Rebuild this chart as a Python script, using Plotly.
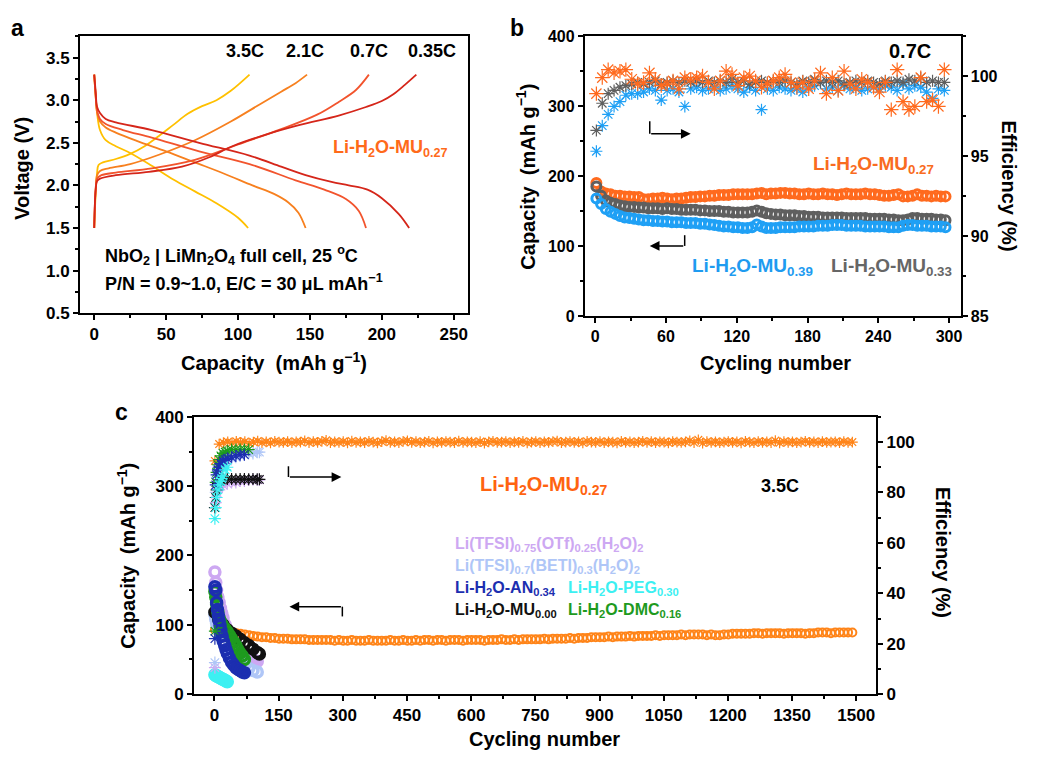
import plotly.graph_objects as go

W, H = 1043, 760
FONT = "Liberation Sans"

# ---------------- Panel a: charge/discharge profiles ----------------
a_rates = ["3.5C", "2.1C", "0.7C", "0.35C"]
a_colors = ["#FFC000", "#F7801F", "#F2542D", "#D5261A"]

cap_35_dis = [0, 1, 2, 4, 8, 15, 25, 40, 55, 70, 85, 100, 107]
v_35_dis = [3.30, 3.05, 2.85, 2.65, 2.53, 2.46, 2.38, 2.23, 2.07, 1.93, 1.79, 1.62, 1.50]
cap_35_ch = [0, 1, 2, 3, 6, 15, 25, 35, 45, 55, 65, 75, 85, 95, 108]
v_35_ch = [1.50, 1.90, 2.15, 2.24, 2.27, 2.31, 2.37, 2.46, 2.58, 2.71, 2.84, 2.93, 3.00, 3.11, 3.30]

cap_21_dis = [0, 1, 2, 4, 8, 15, 30, 50, 70, 90, 110, 125, 135, 142, 147]
v_21_dis = [3.30, 3.05, 2.85, 2.75, 2.68, 2.62, 2.52, 2.40, 2.27, 2.14, 2.00, 1.90, 1.80, 1.68, 1.50]
cap_21_ch = [0, 1, 2, 4, 10, 25, 45, 70, 95, 115, 130, 140, 148]
v_21_ch = [1.50, 1.95, 2.12, 2.17, 2.20, 2.25, 2.36, 2.53, 2.75, 2.95, 3.10, 3.20, 3.30]

cap_07_dis = [0, 1, 2, 4, 8, 20, 40, 73, 108, 140, 160, 175, 184, 189]
v_07_dis = [3.30, 3.05, 2.88, 2.78, 2.72, 2.65, 2.56, 2.40, 2.25, 2.06, 1.95, 1.84, 1.70, 1.50]
cap_07_ch = [0, 1, 2, 5, 15, 40, 70, 100, 130, 155, 170, 182, 191]
v_07_ch = [1.50, 1.95, 2.08, 2.12, 2.15, 2.20, 2.30, 2.48, 2.66, 2.83, 2.98, 3.12, 3.30]

cap_035_dis = [0, 1, 2, 4, 8, 15, 40, 73, 108, 130, 147, 165, 177, 190, 200, 212, 219]
v_035_dis = [3.30, 3.10, 2.92, 2.85, 2.78, 2.74, 2.65, 2.50, 2.35, 2.22, 2.12, 2.04, 2.00, 1.95, 1.85, 1.66, 1.50]
cap_035_ch = [0, 1, 2, 4, 15, 38, 61, 80, 96, 120, 143, 170, 189, 200, 208, 216, 224]
v_035_ch = [1.50, 1.95, 2.05, 2.08, 2.12, 2.16, 2.22, 2.33, 2.46, 2.60, 2.71, 2.82, 2.92, 2.99, 3.07, 3.18, 3.30]

a_curves = [
    (cap_35_dis, v_35_dis, cap_35_ch, v_35_ch),
    (cap_21_dis, v_21_dis, cap_21_ch, v_21_ch),
    (cap_07_dis, v_07_dis, cap_07_ch, v_07_ch),
    (cap_035_dis, v_035_dis, cap_035_ch, v_035_ch),
]

# ---------------- Panel b: cycling at 0.7C ----------------
b_cap_cycles = list(range(1, 300, 4))  # 75 cycles
b_cap_mu27 = [190, 178, 175, 174, 172, 172, 171, 171, 170, 170,
              167, 167, 168, 168, 169, 168, 167, 168, 168, 169,
              170, 170, 171, 171, 172, 172, 173, 173, 173, 174,
              174, 174, 174, 174, 175, 176, 174, 175, 175, 176,
              176, 175, 175, 174, 174, 175, 174, 174, 175, 174,
              174, 173, 174, 175, 174, 174, 174, 175, 174, 174,
              173, 172, 172, 173, 174, 171, 171, 172, 174, 172,
              172, 171, 172, 171, 171]
b_cap_mu33 = [185, 172, 165, 162, 160, 158, 157, 156, 156, 155,
              155, 154, 154, 154, 153, 154, 153, 153, 152, 152,
              152, 152, 151, 151, 150, 150, 150, 149, 149, 148,
              148, 148, 148, 149, 151, 149, 147, 146, 145, 145,
              144, 144, 144, 143, 143, 142, 142, 142, 141, 141,
              141, 141, 141, 140, 140, 140, 140, 140, 139, 139,
              139, 139, 138, 138, 137, 137, 138, 140, 140, 139,
              139, 139, 138, 138, 137]
b_cap_mu39 = [168, 160, 153, 149, 146, 143, 141, 140, 139, 138,
              137, 137, 136, 136, 135, 135, 134, 134, 134, 133,
              133, 133, 132, 132, 131, 130, 129, 128, 128, 127,
              127, 126, 126, 127, 131, 128, 126, 126, 126, 127,
              127, 127, 127, 128, 128, 128, 128, 129, 129, 129,
              130, 130, 130, 129, 129, 129, 129, 128, 128, 128,
              128, 128, 127, 127, 127, 129, 130, 130, 129, 129,
              129, 128, 128, 128, 127]

b_eff_cycles = list(range(1, 301, 5))  # 60 cycles
b_eff_mu27 = [98.9, 99.9, 100.4, 100.2, 100.3, 100.4, 99.8, 99.5, 99.6, 100.2,
              99.8, 99.4, 99.5, 99.7, 99.2, 99.9, 99.8, 99.9, 100.0, 99.6,
              99.2, 99.7, 100.3, 100.1, 99.4, 99.9, 100.0, 99.7, 99.3, 99.5,
              99.7, 99.9, 100.1, 99.6, 99.3, 99.6, 99.2, 99.7, 100.2, 98.9,
              99.9, 99.1, 100.3, 99.5, 99.2, 99.8, 99.6, 99.3, 99.0, 99.6,
              97.9, 100.4, 98.4, 97.9, 98.1, 99.9, 98.4, 98.5, 98.1, 100.4]
b_eff_mu33 = [96.6, 98.3, 98.9, 99.1, 99.3, 99.4, 99.5, 99.6, 99.5, 99.6,
              99.7, 99.5, 99.6, 99.7, 99.6, 99.7, 99.6, 99.7, 99.6, 99.7,
              99.6, 99.7, 99.6, 99.8, 99.6, 99.7, 99.5, 99.6, 99.7, 99.6,
              99.7, 99.6, 99.7, 99.6, 99.5, 99.7, 99.6, 99.8, 99.6, 99.7,
              99.6, 99.7, 99.5, 99.6, 99.7, 99.6, 99.7, 99.6, 99.5, 99.7,
              99.6, 99.7, 99.6, 99.8, 99.7, 99.9, 99.6, 99.7, 99.6, 99.6]
b_eff_mu39 = [95.3, 96.9, 97.6, 98.1, 98.4, 98.8, 98.9, 98.9, 99.0, 99.2,
              99.1, 98.5, 99.1, 99.2, 99.0, 98.1, 99.2, 99.3, 99.1, 99.2,
              99.3, 99.1, 99.2, 99.4, 99.2, 99.0, 99.3, 99.1, 97.9, 99.2,
              99.1, 99.3, 99.2, 99.1, 99.2, 99.0, 99.3, 99.4, 99.6, 99.2,
              99.3, 99.1, 99.4, 99.2, 99.3, 99.1, 99.2, 99.3, 99.2, 99.4,
              99.3, 99.1, 99.5, 99.2, 99.4, 99.3, 99.0, 98.6, 99.2, 99.1]

# ---------------- Panel c: cycling at 3.5C ----------------
c_mu27_cycles = list(range(1, 1500, 10))  # 150 cycles
c_mu27_cap = [93, 92, 91, 90, 89, 88, 87, 86, 85, 84,
              83, 82, 82, 81, 81, 80, 80, 80, 79, 79,
              79, 79, 78, 78, 78, 78, 78, 78, 77, 78,
              77, 77, 78, 77, 77, 77, 78, 77, 77, 77,
              77, 78, 77, 77, 78, 77, 77, 78, 77, 78,
              78, 77, 78, 78, 77, 78, 78, 78, 77, 78,
              78, 78, 78, 77, 78, 78, 78, 79, 78, 78,
              79, 78, 79, 79, 79, 79, 79, 80, 79, 80,
              80, 80, 80, 81, 80, 81, 81, 81, 82, 82,
              82, 82, 83, 82, 83, 83, 83, 84, 83, 84,
              84, 84, 84, 85, 84, 85, 85, 85, 85, 86,
              85, 86, 86, 86, 86, 85, 86, 85, 85, 86,
              86, 87, 87, 87, 87, 87, 88, 88, 87, 88,
              88, 88, 88, 87, 88, 88, 88, 88, 87, 88,
              88, 89, 89, 89, 88, 89, 89, 89, 89, 89]
c_mu27_eff = [92.5, 99.2, 99.8, 100.1, 99.7, 100.3, 99.9, 100.2, 99.6, 100.0,
              100.4, 99.8, 100.1, 99.7, 100.3, 100.0, 99.9, 100.2, 99.8, 100.1,
              100.0, 100.5, 99.8, 100.2, 99.9, 100.3, 100.7, 99.8, 100.1, 99.9,
              100.2, 99.7, 100.4, 99.9, 100.1, 99.8, 100.3, 100.0, 99.7, 100.2,
              100.6, 99.9, 100.1, 99.8, 100.3, 100.5, 99.9, 100.2, 99.8, 100.0,
              100.3, 99.7, 100.1, 99.9, 100.2, 100.0, 99.8, 100.4, 99.9, 100.1,
              100.0, 99.8, 100.2, 99.6, 100.1, 100.3, 99.9, 100.0, 100.2, 99.8,
              100.1, 99.9, 100.3, 99.7, 100.0, 100.2, 99.8, 100.1, 99.9, 100.2,
              100.4, 99.8, 100.0, 100.2, 99.9, 100.1, 99.7, 100.3, 100.0, 99.9,
              100.2, 99.8, 100.1, 100.0, 99.7, 100.3, 99.9, 100.1, 99.8, 100.0,
              100.3, 99.9, 100.2, 99.8, 100.1, 100.0, 99.7, 100.2, 100.0, 99.9,
              100.1, 100.5, 99.8, 100.9, 99.6, 100.2, 99.9, 100.1, 99.8, 100.0,
              100.2, 99.9, 100.1, 99.7, 100.3, 100.0, 99.8, 100.2, 99.9, 100.1,
              99.8, 100.6, 99.7, 100.2, 99.9, 100.1, 99.8, 100.0, 100.3, 99.9,
              100.1, 99.8, 100.2, 99.9, 100.0, 100.1, 99.8, 100.2, 99.9, 100.0]

otf_cap_cyc = [1, 3, 5, 8, 11, 14, 17, 20, 25, 30, 35, 40, 45, 50, 55, 60, 65, 70, 75, 80, 85, 90, 95, 100]
otf_cap = [176, 161, 150, 140, 132, 124, 117, 110, 100, 92, 86, 81, 76, 72, 68, 64, 61, 58, 55, 53, 51, 49, 48, 47]
otf_eff_cyc = [1, 3, 6, 10, 15, 20, 30, 40, 50, 60, 70, 80, 90, 100, 105]
otf_eff = [10.5, 76, 80, 82, 82.5, 83, 83.5, 84, 84, 84.5, 84.5, 85, 85, 85, 85]

beti_cap_cyc = [1, 3, 5, 10, 15, 20, 30, 40, 50, 60, 70, 80, 90, 100]
beti_cap = [115, 108, 102, 92, 84, 76, 65, 56, 50, 45, 41, 37, 34, 32]
beti_eff_cyc = [1, 3, 6, 10, 20, 30, 40, 50, 60, 70, 80, 90, 100, 105]
beti_eff = [12.5, 80, 86, 89, 91, 92.5, 93.5, 94, 94.5, 95, 95.5, 95.5, 96, 96]

an_cap_cyc = [1, 3, 5, 7, 9, 11, 13, 15, 18, 21, 24, 27, 30, 35, 40, 45, 50, 55, 60, 65, 70]
an_cap = [155, 150, 132, 122, 114, 106, 99, 92, 84, 76, 70, 64, 59, 52, 46, 42, 38, 36, 34, 32, 31]
an_eff_cyc = [1, 3, 5, 8, 10, 15, 20, 25, 30, 40, 50, 60, 70]
an_eff = [22, 83, 87, 89, 90, 91.5, 92.5, 93, 93.5, 94, 94.5, 95, 95]

peg_cap_cyc = [1, 3, 6, 9, 12, 15, 18, 21, 24, 27, 30]
peg_cap = [28, 27, 26, 25, 24, 23, 22, 21, 20, 19, 18]
peg_eff_cyc = [1, 3, 5, 8, 11, 14, 17, 20, 25, 30]
peg_eff = [69.6, 74, 78, 81, 83, 84.5, 85.5, 86.5, 89, 90]

mu0_cap_cyc = [1, 10, 20, 30, 40, 50, 60, 70, 80, 90, 100, 105]
mu0_cap = [118, 108, 100, 93, 88, 84, 79, 74, 70, 65, 60, 58]
mu0_eff_cyc = [1, 3, 5, 8, 12, 16, 20, 30, 40, 50, 60, 70, 80, 90, 100, 105]
mu0_eff = [74, 78, 81, 83.5, 84.5, 85, 85.2, 85.3, 85.3, 85.2, 85.3, 85.3, 85.2, 85.3, 85.2, 85.2]

dmc_cap_cyc = [1, 3, 5, 8, 11, 14, 17, 20, 25, 30, 35, 40, 45, 50, 55, 60, 65, 70]
dmc_cap = [148, 140, 130, 118, 110, 105, 101, 98, 94, 90, 85, 80, 75, 70, 64, 59, 55, 50]
dmc_eff_cyc = [1, 3, 5, 8, 11, 15, 20, 25, 30, 40, 50, 60, 70, 80]
dmc_eff = [25, 84, 88, 91, 93, 94.5, 95.5, 96, 96.5, 97, 97, 97, 97, 97]

# ---------------- helpers ----------------
def P(x, y):
    return x / W, 1 - y / H

def dom(a, b, total):
    return [a / total, b / total]

fig = go.Figure()

# panel a traces
for (cd, vd, cc, vc), col in zip(a_curves, a_colors):
    fig.add_trace(go.Scatter(x=cd, y=vd, mode="lines", line=dict(color=col, width=1.8, shape="spline"),
                             xaxis="x", yaxis="y"))
    fig.add_trace(go.Scatter(x=cc, y=vc, mode="lines", line=dict(color=col, width=1.8, shape="spline"),
                             xaxis="x", yaxis="y"))

def star(col, sz, w=1.2):
    return dict(symbol="asterisk-open", size=sz, color=col, line=dict(color=col, width=w))

def ring(col, sz, w):
    return dict(symbol="circle-open", size=sz, color=col, line=dict(color=col, width=w))

# panel b traces
b_or, b_gr, b_bl = "#FF6A1E", "#5F5F5F", "#1FA0F5"
for vals, col, sz in [(b_eff_mu39, b_bl, 10), (b_eff_mu33, b_gr, 10), (b_eff_mu27, b_or, 12)]:
    fig.add_trace(go.Scatter(x=b_eff_cycles, y=vals, mode="markers", marker=star(col, sz),
                             xaxis="x2", yaxis="y3"))
for vals, col in [(b_cap_mu27, b_or), (b_cap_mu33, b_gr), (b_cap_mu39, b_bl)]:
    fig.add_trace(go.Scatter(x=b_cap_cycles, y=vals, mode="markers", marker=ring(col, 9, 3),
                             xaxis="x2", yaxis="y2"))

# panel c traces
c_or = "#FF8418"
fig.add_trace(go.Scatter(x=c_mu27_cycles, y=c_mu27_eff, mode="markers", marker=star(c_or, 9),
                         xaxis="x3", yaxis="y5"))
fig.add_trace(go.Scatter(x=c_mu27_cycles, y=c_mu27_cap, mode="markers", marker=ring(c_or, 8, 2),
                         xaxis="x3", yaxis="y4"))

c_series = [
    (otf_cap_cyc, otf_cap, otf_eff_cyc, otf_eff, "#CDA8F2"),
    (beti_cap_cyc, beti_cap, beti_eff_cyc, beti_eff, "#AFC6F7"),
    (mu0_cap_cyc, mu0_cap, mu0_eff_cyc, mu0_eff, "#111111"),
    (dmc_cap_cyc, dmc_cap, dmc_eff_cyc, dmc_eff, "#1E9A1E"),
    (an_cap_cyc, an_cap, an_eff_cyc, an_eff, "#1C2EB0"),
    (peg_cap_cyc, peg_cap, peg_eff_cyc, peg_eff, "#3CF0F2"),
]
for cc, cv, ec, ev, col in c_series:
    fig.add_trace(go.Scatter(x=ec, y=ev, mode="markers", marker=star(col, 10),
                             xaxis="x3", yaxis="y5"))
    fig.add_trace(go.Scatter(x=cc, y=cv, mode="markers", marker=ring(col, 10, 3.5),
                             xaxis="x3", yaxis="y4"))

# ---------------- axes ----------------
tickfont17 = dict(family=FONT, size=17, color="black", weight="bold")
tickfont16 = dict(family=FONT, size=16, color="black", weight="bold")

def ax(**kw):
    base = dict(showline=True, linecolor="black", linewidth=1.5, ticks="outside", ticklen=5,
                tickwidth=1.5, tickcolor="black", showgrid=False, zeroline=False)
    base.update(kw)
    return base

fig.update_layout(
    width=W, height=H, margin=dict(l=0, r=0, t=0, b=0),
    paper_bgcolor="white", plot_bgcolor="white", showlegend=False,
    font=dict(family=FONT, color="black"),
    # panel a
    xaxis=ax(domain=dom(80, 469, W), anchor="y", range=[-10, 260], tick0=0, dtick=50, mirror=True,
             tickfont=tickfont17, minor=dict(dtick=25, ticklen=3, ticks="outside", tickcolor="black")),
    yaxis=ax(domain=[1 - 312 / H, 1 - 28 / H], anchor="x", range=[0.5, 3.75], tick0=0.5, dtick=0.5,
             tickformat=".1f", mirror=True, tickfont=tickfont17,
             minor=dict(dtick=0.25, ticklen=3, ticks="outside", tickcolor="black")),
    # panel b
    xaxis2=ax(domain=dom(585.7, 962.7, W), anchor="y2", range=[-9, 310], tick0=0, dtick=60, mirror=True,
              tickfont=tickfont16, minor=dict(dtick=30, ticklen=3, ticks="outside", tickcolor="black")),
    yaxis2=ax(domain=[1 - 315 / H, 1 - 27.7 / H], anchor="x2", range=[0, 400], dtick=100,
              tickfont=tickfont16, minor=dict(dtick=50, ticklen=3, ticks="outside", tickcolor="black")),
    yaxis3=ax(overlaying="y2", side="right", anchor="x2", range=[85, 102.5], tickvals=[85, 90, 95, 100],
              tickfont=tickfont16, minor=dict(tickvals=[87.5, 92.5, 97.5, 102.5], ticklen=3,
                                              ticks="outside", tickcolor="black")),
    # panel c
    xaxis3=ax(domain=dom(194.3, 878, W), anchor="y4", range=[-48, 1547], tick0=0, dtick=150, mirror=True,
              tickfont=tickfont17, minor=dict(dtick=75, ticklen=3, ticks="outside", tickcolor="black")),
    yaxis4=ax(domain=[1 - 702.7 / H, 1 - 418.3 / H], anchor="x3", range=[0, 400], dtick=100,
              tickfont=tickfont17, minor=dict(dtick=50, ticklen=3, ticks="outside", tickcolor="black")),
    yaxis5=ax(overlaying="y4", side="right", anchor="x3", range=[0, 110], dtick=20,
              tickfont=tickfont17, minor=dict(dtick=10, ticklen=3, ticks="outside", tickcolor="black")),
)

# ---------------- annotations ----------------
ann = []

def txt(x, y, text, size=16, color="black", xanchor="center", angle=0):
    px_, py_ = P(x, y)
    ann.append(dict(x=px_, y=py_, xref="paper", yref="paper", text=text, showarrow=False,
                    xanchor=xanchor, yanchor="middle", textangle=angle,
                    font=dict(family=FONT, size=size, color=color, weight="bold")))

# panel letters
txt(18, 20, "a", size=23)
txt(518, 20, "b", size=23)
txt(122, 413, "c", size=23)

# panel a
for lab, xx in zip(a_rates, [245, 306, 370, 433]):
    txt(xx, 43, lab, size=18)
txt(391, 143, "Li-H<sub>2</sub>O-MU<sub>0.27</sub>", size=18, color="#FF6A1A")
txt(103, 253, "NbO<sub>2</sub> | LiMn<sub>2</sub>O<sub>4</sub> full cell, 25 <sup>o</sup>C", size=18, xanchor="left")
txt(103, 281, "P/N = 0.9~1.0, E/C = 30 μL mAh<sup>−1</sup>", size=18, xanchor="left")
txt(22, 163, "Voltage (V)", size=20, angle=-90)
txt(275, 362, "Capacity  (mAh g<sup>−1</sup>)", size=20)

# panel b
txt(912, 43, "0.7C", size=20)
txt(875, 160, "Li-H<sub>2</sub>O-MU<sub>0.27</sub>", size=19, color="#F96B20")
txt(754, 265, "Li-H<sub>2</sub>O-MU<sub>0.39</sub>", size=19, color="#1E9BF0")
txt(893, 265, "Li-H<sub>2</sub>O-MU<sub>0.33</sub>", size=19, color="#666666")
txt(527, 172, "Capacity  (mAh g<sup>−1</sup>)", size=20, angle=-90)
txt(1010, 181, "Efficiency (%)", size=20, angle=90)
txt(777, 363, "Cycling number", size=20)

# panel c
txt(545, 489, "Li-H<sub>2</sub>O-MU<sub>0.27</sub>", size=20, color="#FF6310")
txt(781, 489, "3.5C", size=18)
txt(454, 549, "Li(TFSI)<sub>0.75</sub>(OTf)<sub>0.25</sub>(H<sub>2</sub>O)<sub>2</sub>", size=16, color="#CDA8F2", xanchor="left")
txt(454, 572, "Li(TFSI)<sub>0.7</sub>(BETI)<sub>0.3</sub>(H<sub>2</sub>O)<sub>2</sub>", size=16, color="#AFC6F7", xanchor="left")
txt(454, 594, "Li-H<sub>2</sub>O-AN<sub>0.34</sub>", size=16, color="#1C2EB0", xanchor="left")
txt(567, 594, "Li-H<sub>2</sub>O-PEG<sub>0.30</sub>", size=16, color="#3CF0F2", xanchor="left")
txt(454, 617, "Li-H<sub>2</sub>O-MU<sub>0.00</sub>", size=16, color="#111111", xanchor="left")
txt(567, 617, "Li-H<sub>2</sub>O-DMC<sub>0.16</sub>", size=16, color="#1E9A1E", xanchor="left")
txt(127, 561, "Capacity  (mAh g<sup>−1</sup>)", size=20, angle=-90)
txt(945, 557, "Efficiency (%)", size=20, angle=90)
txt(546, 749, "Cycling number", size=20)

# arrows
shapes = []

def arrow(vx, vy0, vy1, hy, hx_tail, hx_head):
    x0, y0 = P(vx, vy0)
    x1, y1 = P(vx, vy1)
    shapes.append(dict(type="line", xref="paper", yref="paper", x0=x0, y0=y0, x1=x1, y1=y1,
                       line=dict(color="black", width=1.5)))
    hx, hy_ = P(hx_head, hy)
    ann.append(dict(x=hx, y=hy_, xref="paper", yref="paper", text="", showarrow=True,
                    ax=hx_tail - hx_head, ay=0, axref="pixel", ayref="pixel",
                    arrowhead=2, arrowsize=1.3, arrowwidth=1.5, arrowcolor="black"))

arrow(651, 115, 128, 128, 651, 692)
arrow(686, 232, 243, 243, 686, 651)
arrow(289, 469, 480, 480, 289, 342)
arrow(343, 613, 623, 613, 343, 290)

fig.update_layout(annotations=ann, shapes=shapes)
fig.write_html("out.html")
